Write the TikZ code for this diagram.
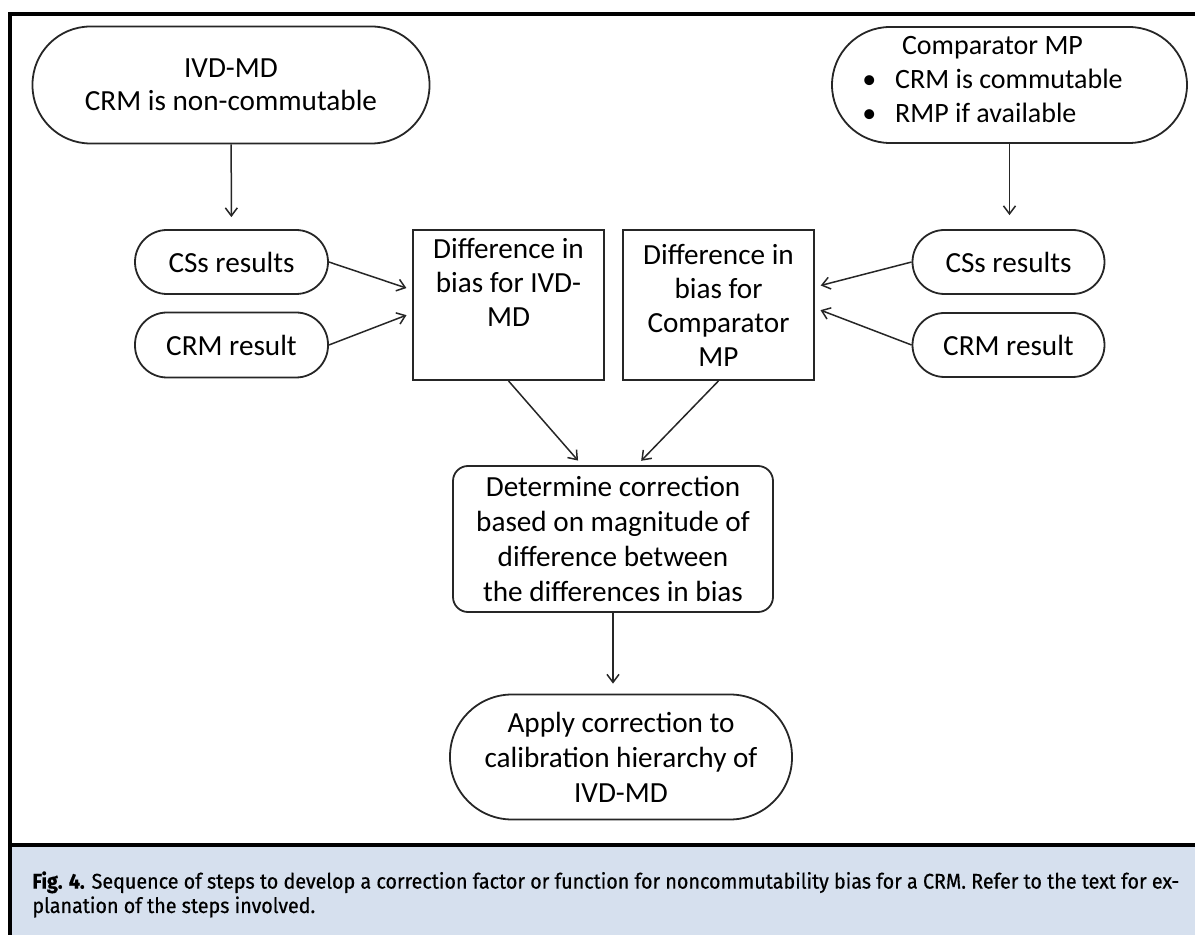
\documentclass[tikz,border=0pt]{standalone}
\usepackage{fontspec}
\setmainfont{Carlito}
\newfontfamily\capfont[FakeBold=0.6, FakeStretch=0.93]{Fira Sans}
\usepackage{tikz}
\usetikzlibrary{arrows.meta}
\definecolor{CaptionBlue}{HTML}{D6E0EE}
\definecolor{LineGrey}{HTML}{262626}
\definecolor{FrameBlack}{HTML}{000000}

\tikzset{
  pill/.style={draw=LineGrey, line width=0.9pt, rounded corners=#1,
    inner sep=0pt, align=center},
  diffbox/.style={draw=LineGrey, line width=0.9pt, inner sep=0pt,
    align=center},
  flow/.style={draw=LineGrey, line width=0.75pt,
    -{Straight Barb[length=4pt,width=6pt]}, shorten >=3pt}
}

\begin{document}
\begin{tikzpicture}[x=0.5pt, y=-0.5pt, font=\fontsize{14.6}{17}\selectfont]
\useasboundingbox (0,0) rectangle (1195,935);

% caption panel and frame
\fill[CaptionBlue] (10,845) rectangle (1195,935);
\draw[FrameBlack, line width=1.75pt] (10,935) -- (10,14) -- (1195,14);
\draw[FrameBlack, line width=1.75pt] (10,845) -- (1195,845);

% top row
\node[pill=29pt, minimum width=198.5pt, minimum height=58.5pt,
  font=\fontsize{14.6}{16.5}\selectfont] (ivd) at (231,85)
  {IVD-MD\\CRM is non-commutable};
\node[pill=29pt, minimum width=177.5pt, minimum height=58pt,
  font=\fontsize{14}{17}\selectfont] (comp) at (1009.5,85)
  {Comparator MP\hspace*{17pt}\\\begin{tabular}[t]{@{}l@{}}\textbullet\hspace{9.5pt}CRM is commutable\hspace*{17pt}\\
   \textbullet\hspace{9.5pt}RMP if available\end{tabular}};

% results
\node[pill=16pt, minimum width=96.5pt, minimum height=32pt] (cssL) at (231.5,262) {CSs results};
\node[pill=16pt, minimum width=96.5pt, minimum height=32.5pt] (crmL) at (231.5,345) {CRM result};
\node[pill=16pt, minimum width=96pt, minimum height=32pt] (cssR) at (1008.5,262) {CSs results};
\node[pill=16pt, minimum width=96pt, minimum height=32pt] (crmR) at (1008.5,345) {CRM result};

% differences in bias
\node[diffbox, minimum width=95.5pt, minimum height=75pt] (diffL) at (508.5,305)
  {Difference in\\bias for IVD-\\MD\\\strut};
\node[diffbox, minimum width=95.5pt, minimum height=75pt] (diffR) at (718.5,305)
  {Difference in\\bias for\\Comparator\\MP};

% correction
\node[pill=7.5pt, minimum width=160pt, minimum height=73pt,
  font=\fontsize{14.6}{17.5}\selectfont] (det) at (613,539)
  {Determine correction\\based on magnitude of\\difference between\\the differences in bias};
\node[pill=31pt, minimum width=171pt, minimum height=62.5pt,
  font=\fontsize{14.6}{17.5}\selectfont] (apply) at (621,757)
  {Apply correction to\\calibration hierarchy of\\IVD-MD};

% connectors
\draw[flow, shorten >=6pt] (ivd) -- (cssL);
\draw[flow, shorten >=7pt] (comp.south) -- (comp.south |- cssR.north);
\draw[flow] (cssL.east) -- ([yshift=7.5pt]diffL.west);
\draw[flow] (crmL.east) -- ([yshift=-4pt]diffL.west);
\draw[flow] (cssR.west) -- ([yshift=9pt]diffR.east);
\draw[flow] (crmR.west) -- ([yshift=-1.5pt]diffR.east);
\draw[flow] (diffL.south) -- ([xshift=-15.5pt]det.north);
\draw[flow] (diffR.south) -- ([xshift=12pt]det.north);
\draw[flow, shorten >=5pt] (det.south) -- (det.south |- apply.north);

% caption
\node[anchor=north west, align=left, inner sep=0pt,
  font=\capfont\fontsize{10.6}{12.2}\selectfont] (caption) at (32,871)
  {\textbf{Fig. 4.} Sequence of steps to develop a correction factor or function for noncommutability bias for a CRM. Refer to the text for ex-\\
   planation of the steps involved.};
\end{tikzpicture}
\end{document}
